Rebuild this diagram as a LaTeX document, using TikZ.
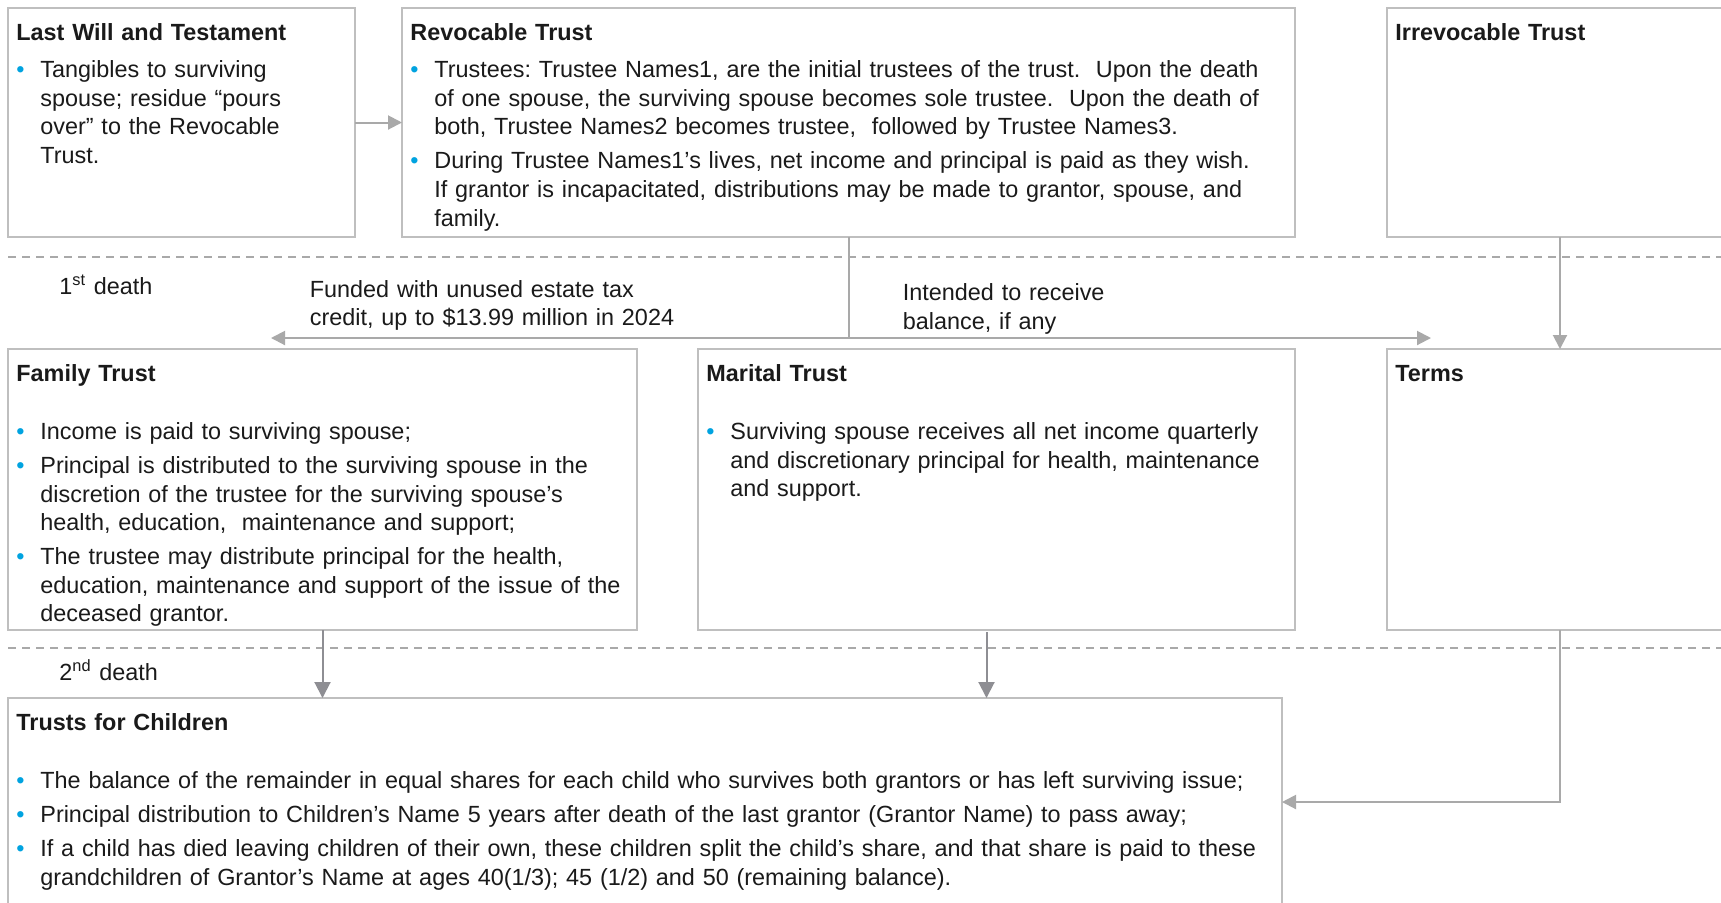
\documentclass[tikz,border=0pt]{standalone}
\usepackage{fontspec}
\setmainfont{Liberation Sans}
\usetikzlibrary{arrows.meta}

\definecolor{boxgray}{HTML}{BFBFBF}
\definecolor{linegray}{HTML}{A9A9A9}
\definecolor{deepgray}{HTML}{8E8E93}
\definecolor{bulblue}{HTML}{00A3E0}
\definecolor{inkblack}{HTML}{1A1A1A}

\newcommand{\ttl}[2]{\textbf{#1}\par\vspace{#2}}
\newcommand{\bitem}[1]{\hangindent=12pt\hangafter=1\noindent\makebox[12pt][l]{\textcolor{bulblue}{\textbullet}}#1\par\vspace{2.8pt}}

\tikzset{
  box/.style={draw=boxgray, line width=0.7pt, inner sep=0pt, outer sep=0pt, anchor=north west},
  txt/.style={anchor=base west, inner sep=0pt, text width=720pt, align=left,
    font=\fontsize{11.7}{14.27}\selectfont\frenchspacing, text=inkblack},
  arr/.style={draw=linegray, line width=1pt, -{Triangle[length=7pt,width=7pt]}},
  darr/.style={draw=deepgray, line width=1pt, -{Triangle[length=8pt,width=8pt]}},
  plain/.style={draw=linegray, line width=1pt},
  sep/.style={draw=linegray, line width=0.75pt, dash pattern=on 4pt off 3pt}
}

\begin{document}
\begin{tikzpicture}[x=0.5pt, y=-0.5pt]
        \useasboundingbox (0,0) rectangle (1721,902);
        \fill[white] (0,0) rectangle (1721,902);

        % Boxes
        \node[box, minimum width=173.5pt, minimum height=114.5pt] (will) at (8,8) {};
        \node[box, minimum width=446.5pt, minimum height=114.5pt] (revoc) at (402,8) {};
        \node[box, minimum width=173pt, minimum height=114.5pt] (irrev) at (1387,8) {};
        \node[box, minimum width=314.5pt, minimum height=140.5pt] (family) at (8,349) {};
        \node[box, minimum width=298.5pt, minimum height=140.5pt] (marital) at (698,349) {};
        \node[box, minimum width=173pt, minimum height=140.5pt] (terms) at (1387,349) {};
        \node[box, minimum width=637pt, minimum height=104pt] (children) at (8,698) {};

        % Box texts
        \node[txt] (willtxt) at ([xshift=4pt,yshift=-16.2pt]will.north west) {%
            \ttl{Last Will and Testament}{4.4pt}%
            \bitem{Tangibles to surviving\newline spouse; residue “pours\newline over” to the Revocable\newline Trust.}};
        \node[txt] (revoctxt) at ([xshift=4pt,yshift=-16.2pt]revoc.north west) {%
            \ttl{Revocable Trust}{4.4pt}%
            \bitem{Trustees: Trustee Names1, are the initial trustees of the trust.\ \ Upon the death\newline of one spouse, the surviving spouse becomes sole trustee.\ \ Upon the death of\newline both, Trustee Names2 becomes trustee,\ \ followed by Trustee Names3.}%
            \bitem{During Trustee Names1’s lives, net income and principal is paid as they wish.\newline If grantor is incapacitated, distributions may be made to grantor, spouse, and\newline family.}};
        \node[txt] (irrevtxt) at ([xshift=4pt,yshift=-16.2pt]irrev.north west) {\textbf{Irrevocable Trust}};
        \node[txt] (familytxt) at ([xshift=4pt,yshift=-16.2pt]family.north west) {%
            \ttl{Family Trust}{14.8pt}%
            \bitem{Income is paid to surviving spouse;}%
            \bitem{Principal is distributed to the surviving spouse in the\newline discretion of the trustee for the surviving spouse’s\newline health, education,\ \ maintenance and support;}%
            \bitem{The trustee may distribute principal for the health,\newline education, maintenance and support of the issue of the\newline deceased grantor.}};
        \node[txt] (maritaltxt) at ([xshift=4pt,yshift=-16.2pt]marital.north west) {%
            \ttl{Marital Trust}{14.8pt}%
            \bitem{Surviving spouse receives all net income quarterly\newline and discretionary principal for health, maintenance\newline and support.}};
        \node[txt] (termstxt) at ([xshift=4pt,yshift=-16.2pt]terms.north west) {\textbf{Terms}};
        \node[txt] (childrentxt) at ([xshift=4pt,yshift=-16.2pt]children.north west) {%
            \ttl{Trusts for Children}{14.8pt}%
            \bitem{The balance of the remainder in equal shares for each child who survives both grantors or has left surviving issue;}%
            \bitem{Principal distribution to Children’s Name 5 years after death of the last grantor (Grantor Name) to pass away;}%
            \bitem{If a child has died leaving children of their own, these children split the child’s share, and that share is paid to these\newline grandchildren of Grantor’s Name at ages 40(1/3); 45 (1/2) and 50 (remaining balance).}};

        % Death lines
        \draw[sep] (8,257) -- (1721,257);
        \draw[sep] (8,648) -- (1721,648);
        \node[txt] (death1) at (59,294) {1\textsuperscript{st} death};
        \node[txt] (death2) at (59,680.3) {2\textsuperscript{nd} death};
        \node[txt] (fundlbl) at (309.5,297.3) {Funded with unused estate tax\\credit, up to \$13.99 million in 2024};
        \node[txt] (ballbl) at (902.5,300.6) {Intended to receive\\balance, if any};

        % Arrows
        \coordinate (split) at (revoc.south |- 0,338);
        \coordinate (fundtip) at (271,338);
        \coordinate (baltip) at (1431,338);
        \coordinate (mstart) at ([xshift=-5pt,yshift=-1pt]marital.south);
        \draw[arr] (will) -- (revoc);
        \draw[plain] (revoc.south) -- (split);
        \draw[arr] (split) -- (fundtip);
        \draw[arr] (split) -- (baltip);
        \draw[arr] (irrev) -- (terms);
        \draw[darr] (family.south) -- (family.south |- children.north);
        \draw[darr] (mstart) -- (mstart |- children.north);
        \draw[arr] (terms.south) |- (children.east);

    \end{tikzpicture}
\end{document}
